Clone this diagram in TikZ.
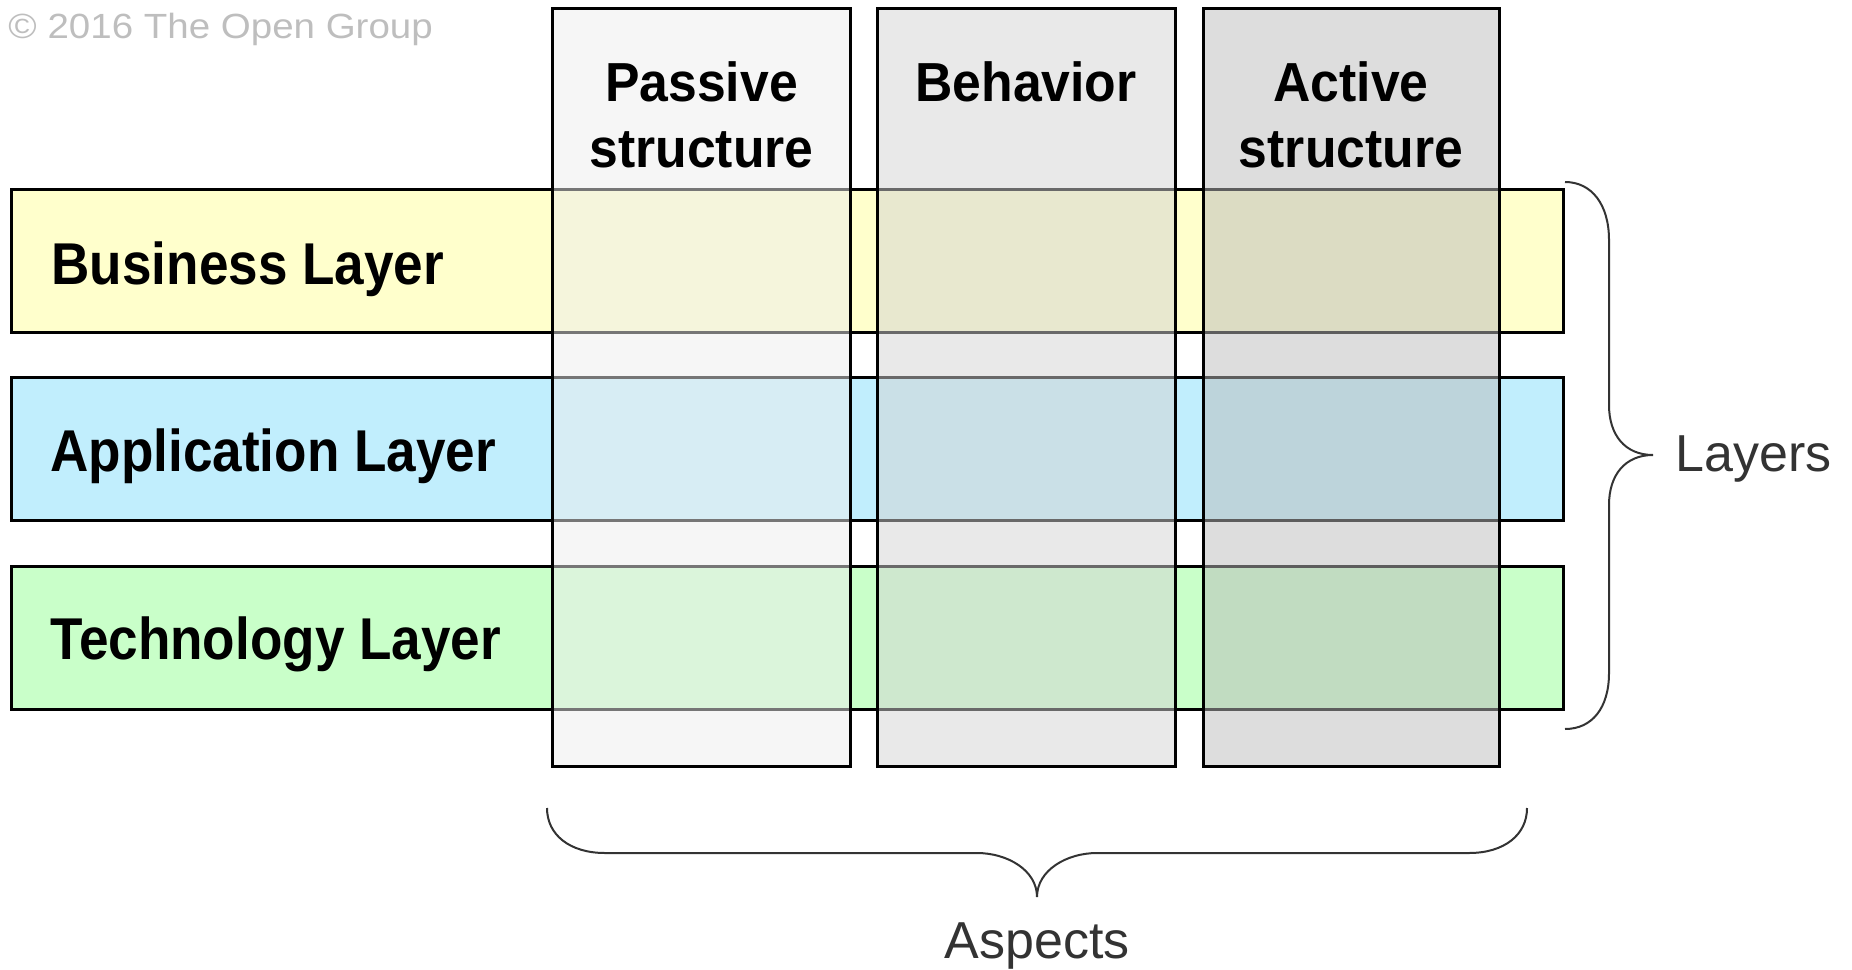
\documentclass[tikz,border=0pt]{standalone}
\usepackage{fontspec}
\setmainfont{Liberation Sans}
\newfontfamily\headfont{Liberation Sans}[FakeStretch=0.94]
\newfontfamily\layerfont{Liberation Sans}[FakeStretch=0.9]
\newfontfamily\copyfont{Liberation Sans}[FakeStretch=1.1]
\usepackage{xcolor}
\usepackage{tikz}
\usetikzlibrary{positioning, calc}

\definecolor{bizyellow}{RGB}{255,255,204}
\definecolor{appblue}{RGB}{193,238,253}
\definecolor{techgreen}{RGB}{201,255,201}
\definecolor{passivegray}{RGB}{237,237,237}
\definecolor{behavgray}{RGB}{211,211,211}
\definecolor{activegray}{RGB}{187,187,187}
\definecolor{bracegray}{RGB}{51,51,51}
\definecolor{copygray}{RGB}{190,190,190}

\begin{document}
\begin{tikzpicture}[x=1pt, y=-1pt, line width=3pt]
    \tikzstyle{layer} = [rectangle, draw=black, minimum width=1552pt, minimum height=143pt, inner sep=0pt, outer sep=0pt]
    \tikzstyle{aspect} = [rectangle, draw=black, fill opacity=0.5, draw opacity=1, minimum width=298pt, minimum height=758pt, inner sep=0pt, outer sep=0pt]
    \tikzstyle{layertext} = [inner sep=0pt, anchor=base west, font={\layerfont\bfseries\fontsize{59}{70}\selectfont}]
    \tikzstyle{headtext} = [inner sep=0pt, anchor=base, align=center, font={\headfont\bfseries\fontsize{55}{66}\selectfont}]
    \tikzstyle{labeltext} = [inner sep=0pt, text=bracegray, font={\fontsize{52}{62}\selectfont}]
    \tikzstyle{curlybrace} = [draw=bracegray, line width=2pt]

    \useasboundingbox (0,0) rectangle (1852,969);

    \node[inner sep=0pt, anchor=base west, text=copygray, font={\copyfont\fontsize{35}{42}\selectfont}] (copyright) at (7,38) {© 2016 The Open Group};

    % Layers
    \node[layer, fill=bizyellow] (biz) at (787,260.5) {};
    \node[layer, fill=appblue, below=45.5pt of biz] (app) {};
    \node[layer, fill=techgreen, below=45.5pt of app] (tech) {};
    \node[layertext] (biztext) at ($(biz.west)+(39,24)$) {Business Layer};
    \node[layertext] (apptext) at ($(app.west)+(38,22)$) {Application Layer};
    \node[layertext] (techtext) at ($(tech.west)+(38,22)$) {Technology Layer};

    % Aspects
    \node[aspect, fill=passivegray] (passive) at (701.5,387) {};
    \node[aspect, fill=behavgray, right=26.5pt of passive] (behav) {};
    \node[aspect, fill=activegray, minimum width=296pt, right=28pt of behav] (active) {};
    \node[headtext] (passivetext) at ($(passive.north)+(0,159)$) {Passive\\structure};
    \node[headtext] (behavtext) at ($(behav.north)+(0,93)$) {Behavior};
    \node[headtext] (activetext) at ($(active.north)+(0,159)$) {Active\\structure};

    % Braces
    \draw[curlybrace] (1565,182) .. controls (1592,182) and (1609,205) .. (1609,240) -- (1609,405)
        .. controls (1609,435) and (1625,455) .. (1653,455)
        .. controls (1625,455) and (1609,475) .. (1609,505) -- (1609,673)
        .. controls (1609,708) and (1592,729) .. (1565,729);
    \draw[curlybrace] (547,808) .. controls (547,835) and (570,853) .. (605,853) -- (977,853)
        .. controls (1007,853) and (1037,870) .. (1037,897)
        .. controls (1037,870) and (1067,853) .. (1097,853) -- (1469,853)
        .. controls (1504,853) and (1527,835) .. (1527,808);
    \node[labeltext, anchor=base west] (layerslabel) at (1674,471) {Layers};
    \node[labeltext, anchor=base] (aspectslabel) at (1037,958) {Aspects};
\end{tikzpicture}
\end{document}
